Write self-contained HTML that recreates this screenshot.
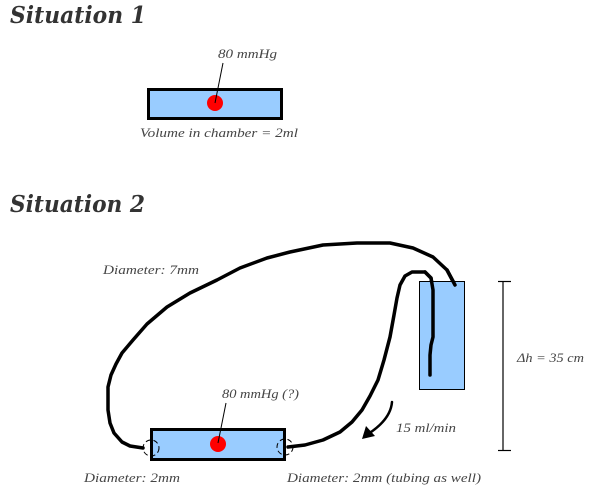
<!DOCTYPE html>
<html><head><meta charset="utf-8"><style>
html,body{margin:0;padding:0;background:#fff;}
svg{display:block;}
.t{font-family:"Liberation Serif",serif;font-style:italic;font-size:13px;fill:#444;}
.h{font-family:"DejaVu Serif","Liberation Serif",serif;font-style:italic;font-weight:bold;font-size:23px;fill:#333;}
</style></head><body>
<svg width="600" height="500" viewBox="0 0 600 500" xmlns="http://www.w3.org/2000/svg">
<text class="h" x="10" y="23" textLength="136" lengthAdjust="spacingAndGlyphs">Situation 1</text>
<text class="h" x="10" y="212" textLength="135" lengthAdjust="spacingAndGlyphs">Situation 2</text>

<!-- Situation 1 -->
<rect x="148.5" y="89.5" width="133" height="29" fill="#99ccff" stroke="#000" stroke-width="3"/>
<circle cx="215" cy="103" r="8" fill="#ff0000"/>
<line x1="223" y1="63" x2="215" y2="103" stroke="#000" stroke-width="1"/>
<text class="t" x="218" y="58" textLength="59" lengthAdjust="spacingAndGlyphs">80 mmHg</text>
<text class="t" x="140" y="137" textLength="158" lengthAdjust="spacingAndGlyphs">Volume in chamber = 2ml</text>

<!-- Situation 2 tubes -->
<polyline fill="none" stroke="#000" stroke-width="3.5" stroke-linecap="round" stroke-linejoin="round"
points="143,448 130,446 122,442 114,433 110,423 108,410 108,387 111,375 116,364 122,353 133,340 147,324 167,307 190,293 217,280 240,268 267,258 290,252 323,245 357,243 390,243 413,248 433,257 447,270 455,285"/>
<polyline fill="none" stroke="#000" stroke-width="3.5" stroke-linecap="round" stroke-linejoin="round"
points="288,447 305,445 323,440 340,432 352,422 362,410 370,396 378,380 384,360 390,337 394,315 397,298 400,285 405,276 412,272 425,272 431,278 433,290 433,337 431,345 430,355 430,375"/>

<!-- reservoir -->
<rect x="419.5" y="281.5" width="45" height="108" fill="#99ccff" stroke="#000" stroke-width="1"/>
<polyline fill="none" stroke="#000" stroke-width="3.5" stroke-linecap="round" stroke-linejoin="round"
points="425,272 431,278 433,290 433,337 431,345 430,355 430,375"/>
<polyline fill="none" stroke="#000" stroke-width="3.5" stroke-linecap="round" points="447,270 455,285"/>

<!-- chamber 2 -->
<rect x="151.5" y="429.5" width="133" height="30" fill="#99ccff" stroke="#000" stroke-width="3"/>
<circle cx="218" cy="444" r="8" fill="#ff0000"/>
<line x1="226" y1="403" x2="218" y2="443" stroke="#000" stroke-width="1"/>
<circle cx="151" cy="448" r="8" fill="none" stroke="#000" stroke-width="1" stroke-dasharray="5,3"/>
<circle cx="285" cy="447" r="8" fill="none" stroke="#000" stroke-width="1" stroke-dasharray="5,3"/>

<!-- arrow -->
<path d="M392,402 C391,415 382,425 368,434" fill="none" stroke="#000" stroke-width="2.5" stroke-linecap="round"/>
<polygon points="362,439 366,426 375,436" fill="#000"/>

<!-- delta h bracket -->
<line x1="503" y1="281" x2="503" y2="450" stroke="#000" stroke-width="1.2"/>
<line x1="498" y1="281.5" x2="511" y2="281.5" stroke="#000" stroke-width="1.2"/>
<line x1="498" y1="450.5" x2="511" y2="450.5" stroke="#000" stroke-width="1.2"/>

<!-- labels -->
<text class="t" x="103" y="274" textLength="96" lengthAdjust="spacingAndGlyphs">Diameter: 7mm</text>
<text class="t" x="222" y="398" textLength="77" lengthAdjust="spacingAndGlyphs">80 mmHg (?)</text>
<text class="t" x="396" y="432" textLength="60" lengthAdjust="spacingAndGlyphs">15 ml/min</text>
<text class="t" x="517" y="362" textLength="67" lengthAdjust="spacingAndGlyphs">Δh = 35 cm</text>
<text class="t" x="84" y="482" textLength="96" lengthAdjust="spacingAndGlyphs">Diameter: 2mm</text>
<text class="t" x="287" y="482" textLength="194" lengthAdjust="spacingAndGlyphs">Diameter: 2mm (tubing as well)</text>
</svg>
</body></html>
